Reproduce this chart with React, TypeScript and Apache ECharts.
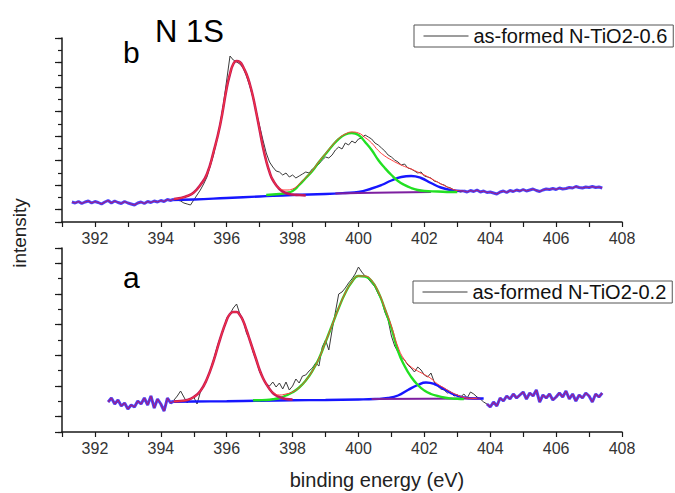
import React, { useEffect, useRef } from 'react';
import * as echarts from 'echarts';

const FONT = '"Liberation Sans", Arial, Helvetica, sans-serif';

// ---------- axis ----------
const X_MIN = 391;
const X_MAX = 408;
const X_TICK_LABELS = [392, 394, 396, 398, 400, 402, 404, 406, 408];

const NAME_B = 'as-formed N-TiO2-0.6';
const NAME_A = 'as-formed N-TiO2-0.2';

// ---------- panel b (top): intensity in arbitrary counts ----------
const B_RAW_START = 394.4; // 0.1 eV grid
const B_RAW = [
  801, 800, 799, 797, 796, 795, 800, 805, 810, 816,
  823, 834, 845, 860, 876, 896, 920, 944, 940, 938,
  936, 932, 924, 914, 902, 888, 874, 860, 847, 838,
  833, 829, 828, 825, 827, 823, 825, 822, 824, 826,
  828, 827, 831, 833, 836, 840, 843, 842, 845, 850,
  853, 851, 857, 855, 859, 857, 861, 862, 865, 863,
  861, 857, 855, 852, 849, 845, 843, 840, 838, 835,
  836, 832, 831, 829, 827, 828, 824, 823, 822, 819,
  818, 816, 815, 813, 812, 810, 809, 808, 809,
];
const B_LEFT_START = 391.3;
const B_LEFT = [
  798, 797, 798.5, 796.5, 798, 799, 797, 798.5, 797.5, 796,
  798, 799.5, 797, 799, 797.5, 796.5, 798.5, 797, 796, 795,
  797, 798, 796.5, 798.5, 797.5, 799, 798, 799.5, 798.5, 800.5,
  799.5, 801,
];
const B_RIGHT_START = 403.2;
const B_RIGHT = [
  809, 808, 809.5, 808.5, 810, 808, 809, 807.5, 808, 807,
  806, 808, 809, 807.5, 809.5, 808.5, 810, 809, 810.5, 809,
  810, 811, 809.5, 808.5, 810, 811, 810.5, 811.5, 810.5, 812,
  811, 811.5, 812.5, 812, 813.5, 812.5, 812, 813, 812.5, 813.5,
  812.5, 813, 812,
];
const B_P1_E = [394.4, 394.6, 394.8, 395.0, 395.2, 395.4, 395.6, 395.8, 396.0, 396.1, 396.2, 396.3, 396.4, 396.5, 396.6, 396.7, 396.8, 396.9, 397.0, 397.1, 397.2, 397.3, 397.4, 397.6, 397.8, 398.0, 398.2, 398.4];
const B_P1_I = [801, 802, 804, 807.5, 815, 826, 848, 875, 912, 926, 936, 939, 938, 933, 926, 916, 903, 887, 870, 853, 839, 828, 820, 811, 807, 805.5, 805, 804.5];
const B_P2_E = [397.2, 397.6, 397.8, 398.0, 398.2, 398.4, 398.6, 398.8, 399.0, 399.2, 399.4, 399.6, 399.8, 400.0, 400.2, 400.4, 400.6, 400.8, 401.0, 401.2, 401.4, 401.6, 401.8, 402.0, 402.4, 402.8, 403.0];
const B_P2_I = [805, 806, 807, 809, 815, 822, 829, 838, 846, 854, 861, 865.5, 867, 865, 858, 850, 840, 832, 825, 819, 815, 812, 810, 809, 808.5, 808, 808];
const B_P3_E = [394.3, 395.0, 396.0, 397.0, 398.0, 399.0, 399.6, 400.0, 400.4, 400.7, 401.0, 401.3, 401.6, 401.9, 402.2, 402.5, 402.8, 403.1, 403.2];
const B_P3_I = [800, 800.5, 802, 803.5, 805, 806, 807, 808, 811.5, 815, 819.5, 823, 824, 822, 817, 812.5, 810, 809, 809];
const B_BG_E = [399.3, 400.0, 401.0, 402.2];
const B_BG_I = [806.5, 807, 807.5, 808];
const B_ENV_E = [394.4, 394.6, 394.8, 395.0, 395.2, 395.4, 395.6, 395.8, 396.0, 396.1, 396.2, 396.3, 396.4, 396.5, 396.6, 396.7, 396.8, 396.9, 397.0, 397.1, 397.2, 397.3, 397.4, 397.6, 397.8, 398.0, 398.2, 398.4, 398.6, 398.8, 399.0, 399.2, 399.4, 399.6, 399.8, 400.0, 400.2, 400.4, 400.6, 400.8, 401.0, 401.2, 401.4, 401.6, 401.8, 402.0, 402.2, 402.4, 402.6, 402.8, 403.0, 403.2];
const B_ENV_I = [801, 802, 804, 807.5, 815, 826, 848, 875, 912, 926, 936, 939, 938, 933, 926, 916, 903, 887, 870, 853, 839, 828, 820.5, 811.5, 810, 811, 816, 822.5, 829.5, 838.5, 846.5, 854.5, 861.5, 866, 868, 867, 862.5, 857, 849.5, 844, 840, 836.5, 833.5, 831, 828, 825, 821.5, 818, 814.5, 811.5, 809.5, 809];

// ---------- panel a (bottom) ----------
const A_RAW_START = 394.4;
const A_RAW = [
  600, 604, 609, 603, 597, 601, 603, 596, 608, 614,
  620, 630, 640, 652, 662, 670, 682, 686, 692, 696,
  686, 680, 667, 660, 648, 639, 628, 622, 616, 614,
  618, 613, 617, 611, 618, 610, 614, 621, 617, 624,
  625, 629, 632, 637, 634, 653, 660, 650, 670, 688,
  706, 708, 712, 717, 721, 726, 733, 728, 724, 721,
  717, 713, 706, 700, 688, 680, 664, 654, 648, 643,
  640, 635, 632, 628, 633, 630, 625, 623, 627, 618,
  614, 611, 610, 607, 608, 604, 605, 603, 606, 602,
  608, 606, 603, 601, 598, 596,
];
const A_LEFT_START = 392.4;
const A_LEFT = [
  598, 602, 596, 600, 594, 597, 591, 595, 593, 599,
  596, 602, 595, 604, 592, 601, 596, 589, 602, 597,
  599,
];
const A_RIGHT_START = 403.9;
const A_RIGHT = [
  596, 593, 598, 594, 602, 599, 604, 601, 606, 602,
  605, 608, 601, 607, 604, 610, 598, 605, 602, 606,
  600, 603, 607, 603, 609, 601, 606, 599, 605, 602,
  607, 604, 598, 606, 603, 607,
];
const A_P1_E = [394.4, 394.6, 394.8, 395.0, 395.2, 395.4, 395.6, 395.8, 396.0, 396.1, 396.2, 396.3, 396.4, 396.5, 396.6, 396.7, 396.8, 396.9, 397.0, 397.1, 397.2, 397.3, 397.4, 397.5, 397.6, 397.8, 398.0];
const A_P1_I = [598.5, 599, 600, 603, 609, 621, 639, 661, 680, 686, 688, 688, 685, 679, 670, 660, 650, 640, 630, 622, 616, 611, 607, 604.5, 603, 601, 600.5];
const A_P2_E = [396.8, 397.0, 397.2, 397.4, 397.6, 397.8, 398.0, 398.2, 398.4, 398.6, 398.8, 399.0, 399.2, 399.4, 399.6, 399.8, 400.0, 400.2, 400.4, 400.6, 400.8, 401.0, 401.2, 401.4, 401.6, 401.8, 402.0, 402.2, 402.4, 402.6, 402.8, 403.0, 403.2];
const A_P2_I = [599.7, 599.8, 600, 600.7, 602, 604.5, 607.7, 612.5, 619.5, 629, 641.5, 658, 675, 692, 707, 718, 724, 723.5, 719, 708, 691, 672, 649, 634, 623, 615, 609.5, 606, 604, 602.5, 601.6, 601.2, 601];
const A_P3_E = [394.3, 395.0, 396.0, 397.0, 398.0, 399.0, 400.0, 400.5, 400.9, 401.2, 401.5, 401.8, 402.05, 402.3, 402.6, 402.9, 403.2, 403.5, 403.8];
const A_P3_I = [598.3, 598.5, 598.8, 599.3, 599.7, 600, 600.5, 601, 602, 604.5, 610, 615, 617.5, 616, 611, 605.5, 602.5, 601.5, 601.5];
const A_BG_E = [400.4, 402.0, 403.7];
const A_BG_I = [601, 601.3, 601.5];
const A_ENV_E = [394.4, 394.6, 394.8, 395.0, 395.2, 395.4, 395.6, 395.8, 396.0, 396.1, 396.2, 396.3, 396.4, 396.5, 396.6, 396.7, 396.8, 396.9, 397.0, 397.1, 397.2, 397.3, 397.4, 397.6, 397.8, 398.0, 398.2, 398.4, 398.6, 398.8, 399.0, 399.2, 399.4, 399.6, 399.8, 400.0, 400.2, 400.4, 400.6, 400.8, 401.0, 401.2, 401.4, 401.6, 401.8, 402.0, 402.2, 402.4, 402.6, 402.8, 403.0, 403.2, 403.4, 403.6];
const A_ENV_I = [598.5, 599, 600, 603, 609, 621, 639, 661, 680, 686, 688, 688, 685, 679, 670, 660, 650, 640, 630, 622, 616, 611, 607.5, 605, 606, 608, 612.5, 619.5, 629, 641.5, 658, 675, 692, 707, 718, 724, 724, 719.5, 708.5, 692, 674, 653, 640, 633, 629, 625.5, 621.5, 616, 612, 608, 605, 602.7, 601.7, 601.5];

// ---------- helpers ----------
function grid01(start: number, count: number): number[] {
  return Array.from({ length: count }, (_, i) => Math.round((start + i * 0.1) * 100) / 100);
}
function pairs(xs: number[], ys: number[]) {
  return xs.map((x, i) => [x, ys[i]]);
}

const C_RAW = '#3a3a3a';
const C_P1 = '#c2185b';
const C_ENV = '#ff3b3b';
const C_P2 = '#22e022';
const C_P3 = '#1616ff';
const C_BG = '#7d1fa0';
const C_END_UNDER = '#4646ff';
const C_END_OVER = '#9a1f8a';

function line(name: string, data: number[][], color: string, width: number, xi: number, yi: number, z: number, smooth = false) {
  return {
    type: 'line',
    name,
    data,
    xAxisIndex: xi,
    yAxisIndex: yi,
    symbol: 'none',
    showSymbol: false,
    smooth,
    color,
    lineStyle: { color, width },
    z,
    silent: true,
    animation: false,
  };
}

function panelSeries(p: {
  name: string; xi: number; yi: number;
  rawStart: number; raw: number[]; leftStart: number; left: number[]; rightStart: number; right: number[];
  p1e: number[]; p1i: number[]; p2e: number[]; p2i: number[]; p3e: number[]; p3i: number[];
  bge: number[]; bgi: number[]; enve: number[]; envi: number[];
}) {
  const { xi, yi } = p;
  const leftData = pairs(grid01(p.leftStart, p.left.length), p.left);
  const rightData = pairs(grid01(p.rightStart, p.right.length), p.right);
  return [
    line(p.name, pairs(grid01(p.rawStart, p.raw.length), p.raw), C_RAW, 1, xi, yi, 2),
    line('p3' + p.name, pairs(p.p3e, p.p3i), C_P3, 2.4, xi, yi, 3, true),
    line('bg' + p.name, pairs(p.bge, p.bgi), C_BG, 2, xi, yi, 3),
    line('p2' + p.name, pairs(p.p2e, p.p2i), C_P2, 2.4, xi, yi, 4, true),
    line('p1' + p.name, pairs(p.p1e, p.p1i), C_P1, 2.6, xi, yi, 5, true),
    line('env' + p.name, pairs(p.enve, p.envi), C_ENV, 1, xi, yi, 6, true),
    line('l1' + p.name, leftData, C_END_UNDER, 3, xi, yi, 3),
    line('l2' + p.name, leftData, C_END_OVER, 1.2, xi, yi, 4),
    line('r1' + p.name, rightData, C_END_UNDER, 3, xi, yi, 3),
    line('r2' + p.name, rightData, C_END_OVER, 1.2, xi, yi, 4),
  ];
}

const AXIS_COLOR = '#1a1a1a';

function xAxisFor(gridIndex: number) {
  return {
    type: 'value',
    gridIndex,
    min: X_MIN,
    max: X_MAX,
    interval: 1,
    axisLine: { show: true, onZero: false, lineStyle: { color: AXIS_COLOR, width: 1.5 } },
    axisTick: { show: true, length: 5, lineStyle: { color: AXIS_COLOR, width: 1.2 } },
    axisLabel: {
      margin: 8,
      fontSize: 16,
      color: '#333',
      fontFamily: FONT,
      formatter: (v: number) => (X_TICK_LABELS.indexOf(v) >= 0 ? String(v) : ''),
    },
    splitLine: { show: false },
  };
}

function yAxesFor(gridIndex: number, min: number, max: number, halfSteps: number, majorMax: number) {
  return [
    {
      type: 'value', gridIndex, position: 'left', min, max,
      axisLine: { show: true, onZero: false, lineStyle: { color: AXIS_COLOR, width: 1.5 } },
      axisTick: { show: false }, axisLabel: { show: false }, splitLine: { show: false },
    },
    {
      type: 'value', gridIndex, position: 'left', min: 0, max: halfSteps, interval: 1,
      axisLine: { show: false, onZero: false },
      axisTick: { show: true, length: 4, lineStyle: { color: AXIS_COLOR, width: 1.2 } },
      axisLabel: { show: false }, splitLine: { show: false },
    },
    {
      type: 'value', gridIndex, position: 'left', min: -0.5, max: majorMax, splitNumber: Math.round(majorMax + 0.5),
      axisLine: { show: false, onZero: false },
      axisTick: { show: true, length: 7, lineStyle: { color: AXIS_COLOR, width: 1.2 } },
      axisLabel: { show: false }, splitLine: { show: false },
    },
  ];
}

function legendFor(name: string, left: number, top: number) {
  return {
    data: [name],
    left,
    top,
    orient: 'horizontal',
    selectedMode: false,
    backgroundColor: '#fff',
    borderColor: '#555',
    borderWidth: 1,
    borderRadius: 0,
    padding: [1, 6, 1, 9],
    itemWidth: 45,
    itemHeight: 12,
    itemGap: 0,
    itemStyle: { opacity: 0 },
    lineStyle: { width: 1, color: C_RAW },
    textStyle: { fontSize: 20, color: '#111', fontFamily: FONT },
  };
}

export default function App() {
  const ref = useRef<HTMLDivElement>(null);
  useEffect(() => {
    if (!ref.current) return;
    const chart = echarts.init(ref.current, undefined, { renderer: 'svg' });
    const option = {
      animation: false,
      backgroundColor: '#ffffff',
      grid: [
        { left: 62, top: 38, width: 560, height: 184, containLabel: false },
        { left: 62, top: 248, width: 560, height: 184, containLabel: false },
      ],
      xAxis: [xAxisFor(0), xAxisFor(1)],
      yAxis: [
        ...yAxesFor(0, 778, 962, 15, 7),
        ...yAxesFor(1, 568, 752, 12, 5.5),
      ],
      legend: [legendFor(NAME_B, 414, 25), legendFor(NAME_A, 413, 281)],
      series: [
        ...panelSeries({
          name: NAME_B, xi: 0, yi: 0,
          rawStart: B_RAW_START, raw: B_RAW, leftStart: B_LEFT_START, left: B_LEFT, rightStart: B_RIGHT_START, right: B_RIGHT,
          p1e: B_P1_E, p1i: B_P1_I, p2e: B_P2_E, p2i: B_P2_I, p3e: B_P3_E, p3i: B_P3_I,
          bge: B_BG_E, bgi: B_BG_I, enve: B_ENV_E, envi: B_ENV_I,
        }),
        ...panelSeries({
          name: NAME_A, xi: 1, yi: 3,
          rawStart: A_RAW_START, raw: A_RAW, leftStart: A_LEFT_START, left: A_LEFT, rightStart: A_RIGHT_START, right: A_RIGHT,
          p1e: A_P1_E, p1i: A_P1_I, p2e: A_P2_E, p2i: A_P2_I, p3e: A_P3_E, p3i: A_P3_I,
          bge: A_BG_E, bgi: A_BG_I, enve: A_ENV_E, envi: A_ENV_I,
        }),
      ],
      graphic: [
        { type: 'text', x: 155, y: 31, style: { text: 'N 1S', font: `31px ${FONT}`, fill: '#000', verticalAlign: 'middle' } },
        { type: 'text', x: 123, y: 52, style: { text: 'b', font: `30px ${FONT}`, fill: '#000', verticalAlign: 'middle' } },
        { type: 'text', x: 123, y: 277, style: { text: 'a', font: `30px ${FONT}`, fill: '#000', verticalAlign: 'middle' } },
        { type: 'text', x: 19, y: 233, rotation: Math.PI / 2, style: { text: 'intensity', font: `19px ${FONT}`, fill: '#222', align: 'center', verticalAlign: 'middle' } },
        { type: 'text', x: 377, y: 480, style: { text: 'binding energy (eV)', font: `20px ${FONT}`, fill: '#222', align: 'center', verticalAlign: 'middle' } },
      ],
    };
    chart.setOption(option as any);
    return () => chart.dispose();
  }, []);
  return (
    <div
      ref={ref}
      style={{ position: 'absolute', left: 0, top: 0, width: 675, height: 493, background: '#fff' }}
    />
  );
}
